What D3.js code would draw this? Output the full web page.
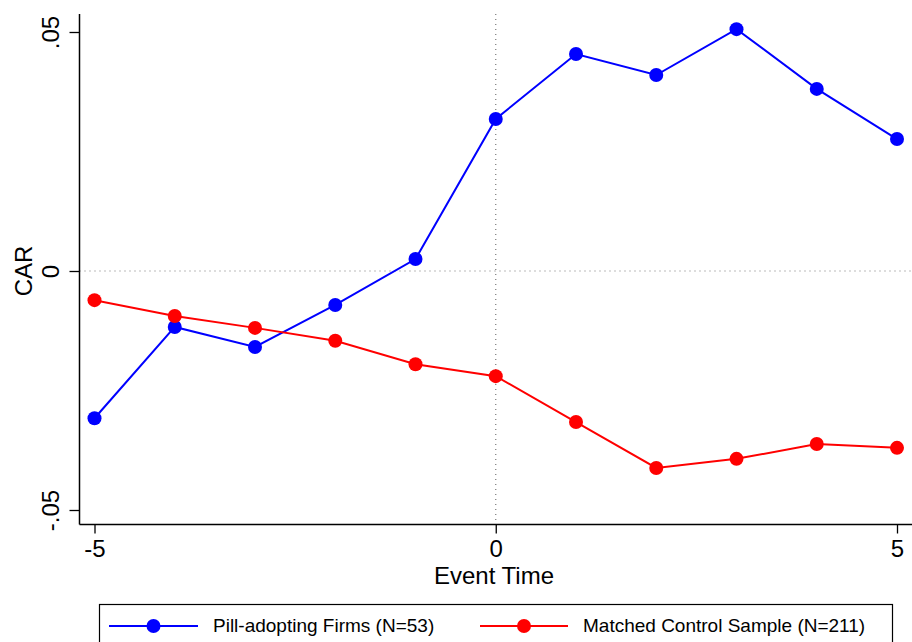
<!DOCTYPE html>
<html><head><meta charset="utf-8">
<script src="https://cdn.jsdelivr.net/npm/d3@7"></script>
<style>body{margin:0;background:#fff}svg{display:block}text{font-family:"Liberation Sans",Arial,sans-serif}</style>
</head><body>
<script>
const eventTime = [-5,-4,-3,-2,-1,0,1,2,3,4,5];
const pillFirms = [-0.0308,-0.0117,-0.0159,-0.0071,0.0025,0.0318,0.0454,0.0410,0.0506,0.0381,0.0276];
const controlSample = [-0.0061,-0.0094,-0.0119,-0.0146,-0.0195,-0.0220,-0.0316,-0.0412,-0.0393,-0.0362,-0.0370];
const xTicks = [-5,0,5];
const yTicks = [-0.05,0,0.05];
const yTickLabels = ["-.05","0",".05"];
const seriesNames = ["Pill-adopting Firms (N=53)","Matched Control Sample (N=211)"];
const seriesColors = ["#0000ff","#ff0000"];

const W=912,H=642;
const svg=d3.select("body").append("svg").attr("width",W).attr("height",H);
const x=d3.scaleLinear().domain([-5,5]).range([94.5,897]);
const y=d3.scaleLinear().domain([-0.05,0.05]).range([510,32]);
const axX=79.5, axY=524.5;

// reference lines
svg.append("line").attr("x1",axX).attr("x2",W).attr("y1",y(0)).attr("y2",y(0))
  .attr("stroke","#777").attr("stroke-width",1.2).attr("stroke-dasharray","1,4");
svg.append("line").attr("x1",x(0)).attr("x2",x(0)).attr("y1",14).attr("y2",axY)
  .attr("stroke","#777").attr("stroke-width",1.2).attr("stroke-dasharray","1,4");

// axes
const gy=svg.append("g").attr("transform",`translate(${axX},0)`)
  .call(d3.axisLeft(y).tickValues(yTicks).tickSize(10).tickFormat((d,i)=>yTickLabels[i]));
gy.select(".domain").remove();
gy.append("line").attr("x1",0).attr("x2",0).attr("y1",14).attr("y2",axY).attr("stroke","#000").attr("stroke-width",1.5);
gy.selectAll(".tick line").attr("stroke","#000").attr("stroke-width",1.3);
gy.selectAll(".tick text").attr("font-size",24).attr("fill","#000")
  .attr("x",null).attr("y",0).attr("dy",null).attr("text-anchor","middle")
  .attr("transform","translate(-21,0) rotate(-90)");

const gx=svg.append("g").attr("transform",`translate(0,${axY})`)
  .call(d3.axisBottom(x).tickValues(xTicks).tickSize(9).tickFormat(d3.format("d")));
gx.select(".domain").remove();
gx.append("line").attr("x1",axX).attr("x2",W).attr("y1",0).attr("y2",0).attr("stroke","#000").attr("stroke-width",1.5);
gx.selectAll(".tick line").attr("stroke","#000").attr("stroke-width",1.3);
gx.selectAll(".tick text").attr("font-size",24).attr("fill","#000").attr("y",15).text(d=>d<0?"-"+Math.abs(d):d);

// axis titles
svg.append("text").attr("x",494).attr("y",584).attr("text-anchor","middle").attr("font-size",24).text("Event Time");
svg.append("text").attr("transform","translate(32,271) rotate(-90)").attr("text-anchor","middle").attr("font-size",24).text("CAR");

// series
const data=[pillFirms,controlSample];
const line=d3.line().x((d,i)=>x(eventTime[i])).y(d=>y(d));
data.forEach((s,k)=>{
  svg.append("path").datum(s).attr("d",line).attr("fill","none").attr("stroke",seriesColors[k]).attr("stroke-width",2);
  svg.selectAll(null).data(s).enter().append("circle")
    .attr("cx",(d,i)=>x(eventTime[i])).attr("cy",d=>y(d)).attr("r",7).attr("fill",seriesColors[k]);
});

// legend
svg.append("rect").attr("x",99.5).attr("y",604.5).attr("width",793).attr("height",50)
  .attr("fill","#fff").attr("stroke","#000").attr("stroke-width",1.2);
const leg=[{x1:109,x2:198,tx:213},{x1:480,x2:568,tx:583}];
leg.forEach((l,k)=>{
  svg.append("line").attr("x1",l.x1).attr("x2",l.x2).attr("y1",626).attr("y2",626).attr("stroke",seriesColors[k]).attr("stroke-width",2);
  svg.append("circle").attr("cx",(l.x1+l.x2)/2).attr("cy",626).attr("r",7).attr("fill",seriesColors[k]);
  svg.append("text").attr("x",l.tx).attr("y",632).attr("font-size",19).text(seriesNames[k]);
});
</script>
</body></html>
